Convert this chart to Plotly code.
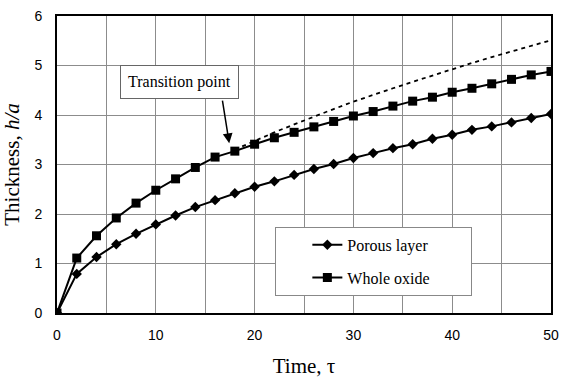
import plotly.graph_objects as go

# Data
tau = [0, 2, 4, 6, 8, 10, 12, 14, 16, 18, 20, 22, 24, 26, 28, 30, 32, 34, 36, 38, 40, 42, 44, 46, 48, 50]
porous = [0, 0.79, 1.13, 1.39, 1.60, 1.79, 1.97, 2.14, 2.28, 2.42, 2.55, 2.66, 2.79, 2.91, 3.01, 3.13, 3.23, 3.33, 3.41, 3.52, 3.60, 3.70, 3.77, 3.85, 3.94, 4.02]
whole = [0, 1.11, 1.56, 1.92, 2.22, 2.48, 2.71, 2.94, 3.15, 3.27, 3.41, 3.54, 3.65, 3.76, 3.87, 3.98, 4.07, 4.18, 4.28, 4.36, 4.46, 4.54, 4.63, 4.72, 4.81, 4.88]
tau_ext = [18, 20, 22, 24, 26, 28, 30, 32, 34, 36, 38, 40, 42, 44, 46, 48, 50]
extrap = [3.30, 3.48, 3.65, 3.81, 3.97, 4.12, 4.27, 4.41, 4.54, 4.67, 4.80, 4.93, 5.05, 5.17, 5.28, 5.40, 5.51]

x_ticks = [0, 10, 20, 30, 40, 50]
y_ticks = [0, 1, 2, 3, 4, 5, 6]

SERIF = "Liberation Serif"
SANS = "Liberation Sans"
pad = "\u00a0" * 9

fig = go.Figure()
fig.add_trace(go.Scatter(x=tau_ext, y=extrap, mode="lines",
                         line=dict(color="black", width=1.8, dash="4px,4px"),
                         showlegend=False, hoverinfo="skip"))
fig.add_trace(go.Scatter(x=tau, y=porous, mode="lines+markers", name="Porous layer" + pad,
                         legendgroup="a",
                         line=dict(color="black", width=2),
                         marker=dict(symbol="diamond", size=8, color="black")))
fig.add_trace(go.Scatter(x=tau, y=whole, mode="lines+markers", name="Whole oxide" + pad,
                         legendgroup="b",
                         line=dict(color="black", width=2),
                         marker=dict(symbol="square", size=9, color="black")))

fig.update_layout(
    width=567, height=382,
    margin=dict(l=57, r=8, t=13, b=66),
    paper_bgcolor="white", plot_bgcolor="white",
    showlegend=True,
    legend=dict(x=0.442, y=0.29, xanchor="left", yanchor="top",
                bordercolor="#888888", borderwidth=1, bgcolor="white",
                font=dict(family=SERIF, size=16, color="black"),
                tracegroupgap=9, indentation=31, traceorder="grouped"),
    xaxis=dict(range=[0, 50], tickvals=x_ticks, showgrid=True, gridcolor="#8c8c8c", gridwidth=1,
               minor=dict(dtick=5, showgrid=True, gridcolor="#8c8c8c", gridwidth=1),
               showline=True, linecolor="black", linewidth=2, mirror=True, zeroline=False,
               ticks="", ticklabelstandoff=8,
               tickfont=dict(family=SANS, size=14, color="black"),
               title=dict(text="Time, \u03c4", font=dict(family=SERIF, size=21, color="black"), standoff=17)),
    yaxis=dict(range=[0, 6], tickvals=y_ticks, showgrid=True, gridcolor="#8c8c8c", gridwidth=1,
               showline=True, linecolor="black", linewidth=2, mirror=True, zeroline=False,
               ticks="", ticklabelstandoff=10,
               tickfont=dict(family=SANS, size=14, color="black"),
               title=dict(text="Thickness, <i>h/a</i>", font=dict(family=SERIF, size=21, color="black"), standoff=10)),
    annotations=[
        dict(x=12.4, y=4.67, xref="x", yref="y", text="Transition point", showarrow=False,
             font=dict(family=SERIF, size=16, color="black"),
             bordercolor="#666666", borderwidth=1, borderpad=7, bgcolor="white"),
        dict(x=17.43, y=3.43, xref="x", yref="y", text="", showarrow=True,
             ax=-7, ay=-44, arrowhead=2, arrowsize=1.3, arrowwidth=1.5, arrowcolor="black"),
    ],
)

fig.write_html("out.html")
